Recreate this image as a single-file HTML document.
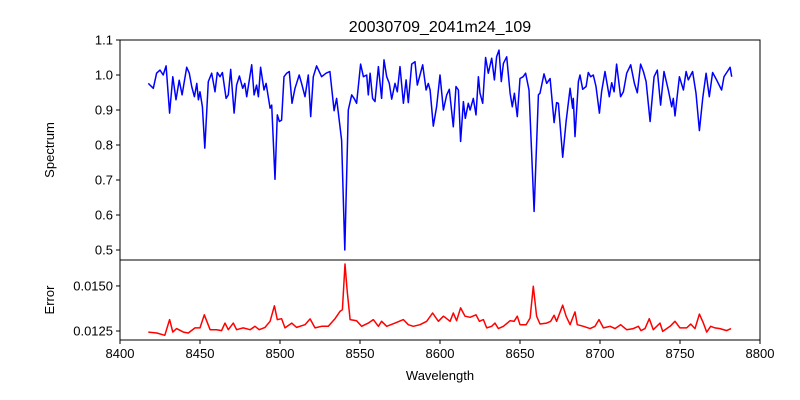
<!DOCTYPE html>
<html><head><meta charset="utf-8"><style>
body{margin:0;background:#fff;}
svg{display:block;font-family:"Liberation Sans","DejaVu Sans",sans-serif;}
</style></head><body>
<svg id="chart" width="800" height="400" viewBox="0 0 800 400" xmlns="http://www.w3.org/2000/svg">
<rect width="800" height="400" fill="#fff"/>
<text x="440" y="32" font-size="16" text-anchor="middle">20030709_2041m24_109</text>
<g id="topG"></g>
<g id="botG"></g>
<text transform="translate(54,150) rotate(-90)" font-size="13" text-anchor="middle">Spectrum</text>
<text transform="translate(54,300) rotate(-90)" font-size="13" text-anchor="middle">Error</text>
<text x="440" y="380" font-size="13" text-anchor="middle">Wavelength</text>
</svg>
<script>
const specWave=[8417.7,8420.8,8422.9,8425,8427,8428.8,8431,8433,8435,8437,8438.8,8440,8441.7,8443.3,8444.8,8446.5,8448,8449,8450,8451.5,8453,8455.2,8457.3,8459.4,8460.8,8462.5,8464,8466.3,8467.7,8469.2,8471.3,8472.9,8474.6,8476.7,8478,8479.2,8482.3,8483.8,8485.4,8486.5,8487.9,8490,8491.3,8493.8,8494.8,8496.9,8498.3,8499.6,8501,8502.5,8504.2,8505.8,8507.5,8509.4,8512,8513.5,8515.6,8517.7,8519.2,8520.8,8522.9,8526,8528.8,8531.2,8533.8,8535.4,8538.5,8540.5,8542.7,8544.8,8546.3,8547.9,8550.4,8552.1,8554.2,8555.2,8556.3,8557.9,8559.4,8561.5,8563.5,8565,8566.7,8568.3,8569.8,8571.9,8573.3,8575,8577.1,8578.8,8580.2,8582.3,8584.4,8585.8,8587.5,8589.2,8591.3,8592.7,8593.8,8595.8,8597.9,8600,8602.1,8604.2,8605.8,8608.3,8610,8611.5,8612.9,8614.6,8615.8,8617.7,8618.8,8620.8,8622.5,8624,8625,8626.7,8628.5,8630.2,8632.3,8634,8635.4,8636.9,8638.3,8639.6,8641.7,8643.8,8645.2,8646.5,8648.3,8650,8652,8653.5,8655.6,8658.8,8661.5,8662.5,8665,8666.7,8668.8,8671.3,8672.9,8674,8676.7,8678.8,8681.3,8682.9,8683.3,8684.4,8686.5,8687.5,8689.2,8691.3,8692.7,8694.2,8695.8,8697.5,8699.6,8701,8703.1,8705.8,8707.3,8708.8,8710.4,8712.9,8714.6,8716.7,8719.2,8721.5,8723.3,8725.4,8727.1,8728.8,8731.3,8733.8,8735.8,8737.9,8740,8742.7,8744.8,8745.8,8746.9,8749.6,8752.1,8753.8,8755.2,8757.9,8760,8762.1,8764.2,8766.3,8768.3,8770.4,8772.9,8776,8777.5,8779.6,8781.3,8782.3];
const specFlux=[0.976,0.962,1.005,1.014,1.0,1.026,0.891,0.995,0.929,0.985,0.943,0.976,1.022,1.005,0.967,0.938,0.976,0.929,0.952,0.909,0.791,0.981,1.005,0.952,1.007,0.995,1.007,0.933,0.943,1.016,0.891,0.971,0.997,0.962,0.976,0.938,1.029,0.943,0.971,0.938,1.022,0.957,0.976,0.905,0.914,0.702,0.886,0.867,0.871,0.995,1.005,1.01,0.919,0.962,1.0,0.976,0.938,1.0,0.881,0.995,1.026,0.995,1.005,1.01,0.898,0.933,0.814,0.50,0.9,0.943,0.933,0.919,1.031,0.995,1.0,0.943,1.005,0.933,0.924,1.024,0.933,1.043,0.995,0.976,0.931,0.976,0.952,1.024,0.919,0.986,0.921,1.031,1.038,0.971,1.0,1.029,0.957,0.976,0.957,0.854,0.909,1.0,0.9,0.943,0.959,0.852,0.967,0.957,0.81,0.924,0.876,0.919,0.9,0.933,0.886,0.995,0.948,0.919,1.05,1.005,1.048,0.986,1.052,1.071,0.981,1.033,1.052,0.948,0.909,0.948,0.881,0.99,0.995,1.005,0.957,0.61,0.943,0.948,1.003,0.976,0.99,0.864,0.921,0.919,0.765,0.867,0.962,0.905,0.933,0.824,0.981,1.0,0.959,0.967,1.007,0.995,1.0,0.967,0.891,0.952,1.01,0.938,0.978,0.952,1.031,0.938,0.952,1.005,1.029,0.976,0.949,1.031,1.01,0.981,0.867,0.995,1.014,0.914,1.01,0.957,0.909,0.933,0.883,0.995,0.957,1.01,0.986,1.01,0.948,0.841,0.933,1.005,0.938,1.007,0.986,0.957,0.995,1.01,1.022,0.995];
const errWave=[8417.7,8423,8428,8431,8433,8435.4,8439.6,8442.7,8446.9,8450,8452.7,8456.3,8460.4,8463.5,8465.6,8467.7,8470.8,8472.9,8477,8481.3,8484.4,8487,8490.6,8493.8,8496.5,8498.3,8501,8503.1,8507.3,8510.4,8515.6,8518.8,8521.9,8526,8530.2,8534.4,8537.5,8539,8540.6,8542,8543.8,8547.9,8551,8555.2,8558.3,8561.5,8563.5,8566.7,8571.9,8577.1,8580.2,8583.3,8587.5,8591.7,8595.4,8599,8602.1,8603.1,8606.3,8608.3,8610.4,8612.9,8615.6,8618.8,8622.5,8624.6,8627.1,8629.2,8632.3,8634.4,8636.5,8639.6,8643.8,8646.3,8648.3,8650,8653.8,8656.3,8658.3,8660.4,8662.5,8666.7,8669.2,8671.3,8672.9,8676.7,8678.8,8681.3,8684.4,8685.8,8689.6,8693.8,8696.9,8699.4,8702.1,8706.3,8709.4,8712.9,8716.7,8720.8,8724,8725.6,8728.1,8730.8,8733.3,8737.5,8739.2,8743.8,8746.9,8750,8754.2,8756.7,8759.4,8762.1,8764.6,8766.7,8769.2,8771.9,8775,8779.2,8781.9];
const errVal=[0.01244,0.01239,0.01226,0.01313,0.01244,0.01263,0.01244,0.01239,0.01267,0.01267,0.0134,0.01257,0.01257,0.01252,0.01294,0.01257,0.01294,0.01257,0.01267,0.01257,0.01276,0.01257,0.0127,0.01304,0.0139,0.01313,0.01318,0.01267,0.01294,0.0127,0.01285,0.01317,0.01267,0.01276,0.01276,0.01318,0.01359,0.01368,0.01622,0.01471,0.01313,0.01307,0.01276,0.01294,0.01313,0.01276,0.01304,0.01276,0.01294,0.01313,0.01285,0.01276,0.01285,0.01304,0.0135,0.01304,0.01332,0.01326,0.01304,0.0135,0.01307,0.01378,0.01332,0.01326,0.0134,0.01304,0.01313,0.01267,0.01276,0.01294,0.01263,0.01276,0.01307,0.01304,0.01332,0.01285,0.01285,0.01322,0.01498,0.01332,0.01289,0.01294,0.01304,0.01337,0.01304,0.01393,0.01332,0.01285,0.01356,0.01285,0.01276,0.01263,0.01276,0.01313,0.01267,0.01276,0.01263,0.01285,0.01257,0.01263,0.01276,0.01252,0.01263,0.01318,0.01257,0.01294,0.01248,0.01276,0.01304,0.01267,0.01267,0.01289,0.01263,0.01344,0.01294,0.01244,0.01276,0.01267,0.01263,0.01252,0.01263];
const xTicks=[8400,8450,8500,8550,8600,8650,8700,8750,8800];
const specTicks=[0.5,0.6,0.7,0.8,0.9,1.0,1.1];
const errTicks=[0.0125,0.0150];

const NS="http://www.w3.org/2000/svg";
const L=120,R=760,T1=40,B1=260,T2=260,B2=340;
const xs=w=>L+(w-8400)/400*(R-L);
const ys1=v=>T1+(1.1-v)/(1.1-0.4714)*(B1-T1);
const ys2=v=>T2+(0.01644-v)/(0.01644-0.0120)*(B2-T2);
function mk(p,tag,a){const e=document.createElementNS(NS,tag);for(const k in a)e.setAttribute(k,a[k]);p.appendChild(e);return e;}
const topG=document.getElementById('topG'),botG=document.getElementById('botG');

let d=specWave.map((w,i)=>(i?'L':'M')+xs(w).toFixed(1)+','+ys1(specFlux[i]).toFixed(1)).join('');
const sl=mk(topG,'path',{d:d,fill:'none',stroke:'#0000ff','stroke-width':1.5,'stroke-linejoin':'round'});


d=errWave.map((w,i)=>(i?'L':'M')+xs(w).toFixed(1)+','+ys2(errVal[i]).toFixed(1)).join('');
const el=mk(botG,'path',{d:d,fill:'none',stroke:'#ff0000','stroke-width':1.5,'stroke-linejoin':'round'});



specTicks.forEach(v=>{const y=ys1(v);
 mk(topG,'line',{x1:L-4,x2:L,y1:y,y2:y,stroke:'#000'});
 const t=mk(topG,'text',{x:L-7,y:y+4.5,'font-size':13,'text-anchor':'end'});t.textContent=v.toFixed(1);
 
 
});
errTicks.forEach(v=>{const y=ys2(v);
 mk(botG,'line',{x1:L-4,x2:L,y1:y,y2:y,stroke:'#000'});
 const t=mk(botG,'text',{x:L-7,y:y+4.5,'font-size':13,'text-anchor':'end'});t.textContent=v.toFixed(4);
 
 
});
xTicks.forEach(v=>{const x=xs(v);
 mk(botG,'line',{x1:x,x2:x,y1:B2,y2:B2+4,stroke:'#000'});
 const t=mk(botG,'text',{x:x,y:B2+18,'font-size':13,'text-anchor':'middle'});t.textContent=v;
 
 
});
mk(topG,'rect',{x:L,y:T1,width:R-L,height:B1-T1,fill:'none',stroke:'#000','stroke-width':1});
mk(botG,'rect',{x:L,y:T2,width:R-L,height:B2-T2,fill:'none',stroke:'#000','stroke-width':1});
</script>
</body></html>
